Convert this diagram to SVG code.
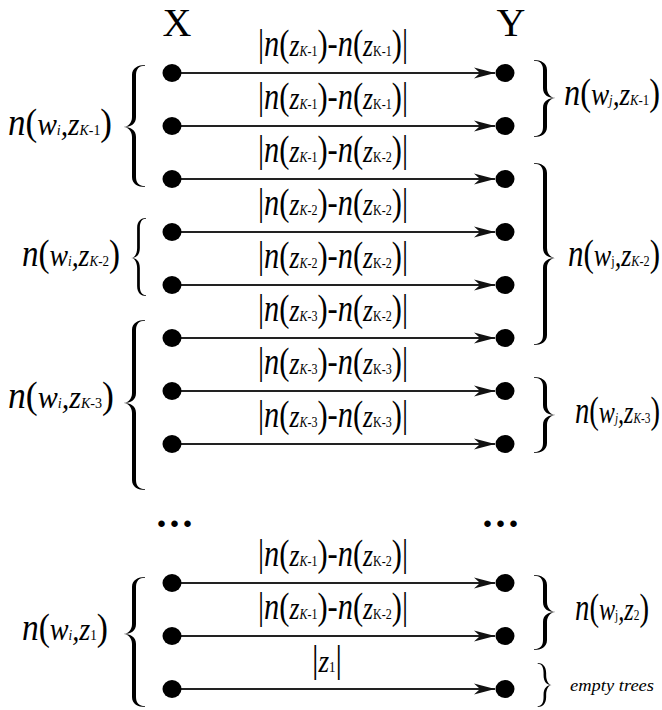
<svg xmlns="http://www.w3.org/2000/svg" width="662" height="710" viewBox="0 0 662 710">
<style>
.t{font-family:"Liberation Serif","Times New Roman",serif;fill:#000}
.big{font-size:38px}
.i{font-style:italic}
.zz{font-size:32px;font-style:italic}
.sb{font-size:15px}
.hd{font-size:40px}
.el{font-size:40px;font-weight:bold;letter-spacing:3px}
.et{font-size:17px;font-style:italic}
.arr{stroke:#222;stroke-width:1.8;fill:none;marker-end:url(#ah)}
.dot{fill:#000}
.br{fill:#000}
</style>
<defs>
<marker id="ah" markerUnits="userSpaceOnUse" markerWidth="22" markerHeight="14" viewBox="0 0 22 14" refX="21" refY="7" orient="auto">
<path d="M0,1.5 L21,7 L0,12.5 L6,7 Z" fill="#111"/>
</marker>
</defs>
<rect width="662" height="710" fill="#fff"/>

<g id="headers">
<text class="t hd" x="177" y="36" text-anchor="middle">X</text>
<text class="t hd" x="511" y="36" text-anchor="middle">Y</text>
</g>

<g id="connectors">
<line class="arr" x1="172" y1="73" x2="495" y2="73"/>
<line class="arr" x1="172" y1="126" x2="495" y2="126"/>
<line class="arr" x1="172" y1="179" x2="495" y2="179"/>
<line class="arr" x1="172" y1="232" x2="495" y2="232"/>
<line class="arr" x1="172" y1="285" x2="495" y2="285"/>
<line class="arr" x1="172" y1="338" x2="495" y2="338"/>
<line class="arr" x1="172" y1="391" x2="495" y2="391"/>
<line class="arr" x1="172" y1="444" x2="495" y2="444"/>
<line class="arr" x1="172" y1="583" x2="495" y2="583"/>
<line class="arr" x1="172" y1="636" x2="495" y2="636"/>
<line class="arr" x1="172" y1="689" x2="495" y2="689"/>
</g>

<g id="edge-labels">
<text class="t big" x="258" y="56" textLength="150" lengthAdjust="spacingAndGlyphs">|<tspan class="i">n</tspan>(<tspan class="zz">z</tspan><tspan class="sb i">K</tspan><tspan class="sb">-1</tspan>)-<tspan class="i">n</tspan>(<tspan class="zz">z</tspan><tspan class="sb">K-1</tspan>)|</text>
<text class="t big" x="258" y="109" textLength="150" lengthAdjust="spacingAndGlyphs">|<tspan class="i">n</tspan>(<tspan class="zz">z</tspan><tspan class="sb i">K</tspan><tspan class="sb">-1</tspan>)-<tspan class="i">n</tspan>(<tspan class="zz">z</tspan><tspan class="sb">K-1</tspan>)|</text>
<text class="t big" x="258" y="162" textLength="150" lengthAdjust="spacingAndGlyphs">|<tspan class="i">n</tspan>(<tspan class="zz">z</tspan><tspan class="sb i">K</tspan><tspan class="sb">-1</tspan>)-<tspan class="i">n</tspan>(<tspan class="zz">z</tspan><tspan class="sb">K-2</tspan>)|</text>
<text class="t big" x="258" y="215" textLength="150" lengthAdjust="spacingAndGlyphs">|<tspan class="i">n</tspan>(<tspan class="zz">z</tspan><tspan class="sb i">K</tspan><tspan class="sb">-2</tspan>)-<tspan class="i">n</tspan>(<tspan class="zz">z</tspan><tspan class="sb">K-2</tspan>)|</text>
<text class="t big" x="258" y="268" textLength="150" lengthAdjust="spacingAndGlyphs">|<tspan class="i">n</tspan>(<tspan class="zz">z</tspan><tspan class="sb i">K</tspan><tspan class="sb">-2</tspan>)-<tspan class="i">n</tspan>(<tspan class="zz">z</tspan><tspan class="sb">K-2</tspan>)|</text>
<text class="t big" x="258" y="321" textLength="150" lengthAdjust="spacingAndGlyphs">|<tspan class="i">n</tspan>(<tspan class="zz">z</tspan><tspan class="sb i">K</tspan><tspan class="sb">-3</tspan>)-<tspan class="i">n</tspan>(<tspan class="zz">z</tspan><tspan class="sb">K-2</tspan>)|</text>
<text class="t big" x="258" y="374" textLength="150" lengthAdjust="spacingAndGlyphs">|<tspan class="i">n</tspan>(<tspan class="zz">z</tspan><tspan class="sb i">K</tspan><tspan class="sb">-3</tspan>)-<tspan class="i">n</tspan>(<tspan class="zz">z</tspan><tspan class="sb">K-3</tspan>)|</text>
<text class="t big" x="258" y="427" textLength="150" lengthAdjust="spacingAndGlyphs">|<tspan class="i">n</tspan>(<tspan class="zz">z</tspan><tspan class="sb i">K</tspan><tspan class="sb">-3</tspan>)-<tspan class="i">n</tspan>(<tspan class="zz">z</tspan><tspan class="sb">K-3</tspan>)|</text>
<text class="t big" x="258" y="566" textLength="150" lengthAdjust="spacingAndGlyphs">|<tspan class="i">n</tspan>(<tspan class="zz">z</tspan><tspan class="sb i">K</tspan><tspan class="sb">-1</tspan>)-<tspan class="i">n</tspan>(<tspan class="zz">z</tspan><tspan class="sb">K-2</tspan>)|</text>
<text class="t big" x="258" y="619" textLength="150" lengthAdjust="spacingAndGlyphs">|<tspan class="i">n</tspan>(<tspan class="zz">z</tspan><tspan class="sb i">K</tspan><tspan class="sb">-1</tspan>)-<tspan class="i">n</tspan>(<tspan class="zz">z</tspan><tspan class="sb">K-2</tspan>)|</text>
<text class="t big" x="312" y="672" textLength="30" lengthAdjust="spacingAndGlyphs">|<tspan class="zz">z</tspan><tspan class="sb">1</tspan>|</text>
</g>

<g id="x-nodes">
<g id="x1"><ellipse class="dot" cx="172" cy="73" rx="9.5" ry="9"/></g>
<g id="x2"><ellipse class="dot" cx="172" cy="126" rx="9.5" ry="9"/></g>
<g id="x3"><ellipse class="dot" cx="172" cy="179" rx="9.5" ry="9"/></g>
<g id="x4"><ellipse class="dot" cx="172" cy="232" rx="9.5" ry="9"/></g>
<g id="x5"><ellipse class="dot" cx="172" cy="285" rx="9.5" ry="9"/></g>
<g id="x6"><ellipse class="dot" cx="172" cy="338" rx="9.5" ry="9"/></g>
<g id="x7"><ellipse class="dot" cx="172" cy="391" rx="9.5" ry="9"/></g>
<g id="x8"><ellipse class="dot" cx="172" cy="444" rx="9.5" ry="9"/></g>
<g id="x9"><ellipse class="dot" cx="172" cy="583" rx="9.5" ry="9"/></g>
<g id="x10"><ellipse class="dot" cx="172" cy="636" rx="9.5" ry="9"/></g>
<g id="x11"><ellipse class="dot" cx="172" cy="689" rx="9.5" ry="9"/></g>
</g>

<g id="y-nodes">
<g id="y1"><ellipse class="dot" cx="505" cy="73" rx="9.5" ry="9"/></g>
<g id="y2"><ellipse class="dot" cx="505" cy="126" rx="9.5" ry="9"/></g>
<g id="y3"><ellipse class="dot" cx="505" cy="179" rx="9.5" ry="9"/></g>
<g id="y4"><ellipse class="dot" cx="505" cy="232" rx="9.5" ry="9"/></g>
<g id="y5"><ellipse class="dot" cx="505" cy="285" rx="9.5" ry="9"/></g>
<g id="y6"><ellipse class="dot" cx="505" cy="338" rx="9.5" ry="9"/></g>
<g id="y7"><ellipse class="dot" cx="505" cy="391" rx="9.5" ry="9"/></g>
<g id="y8"><ellipse class="dot" cx="505" cy="444" rx="9.5" ry="9"/></g>
<g id="y9"><ellipse class="dot" cx="505" cy="583" rx="9.5" ry="9"/></g>
<g id="y10"><ellipse class="dot" cx="505" cy="636" rx="9.5" ry="9"/></g>
<g id="y11"><ellipse class="dot" cx="505" cy="689" rx="9.5" ry="9"/></g>
</g>

<g id="ellipses">
<text class="t el" x="176" y="527" text-anchor="middle">...</text>
<text class="t el" x="502" y="527" text-anchor="middle">...</text>
</g>

<g id="left-groups">
<g id="L1">
<path class="br" transform="translate(123,65)" d="M22,0 C15,0 9,3 9,10 V52 C9,58 5,62 0,62 C5,62 9,66 9,72 V112 C9,119 15,122 22,122 L22,121.2 C16,121 13,118 13,112 V72 C13,65 8,62 0,62 C8,62 13,59 13,52 V10 C13,4 16,0.8 22,0.8 Z"/>
<text class="t big" x="8" y="135" textLength="104" lengthAdjust="spacingAndGlyphs"><tspan class="i">n</tspan>(<tspan class="zz">w</tspan><tspan class="sb i">i</tspan><tspan class="zz">,z</tspan><tspan class="sb i">K</tspan><tspan class="sb">-1</tspan>)</text>
</g>
<g id="L2">
<path class="br" transform="translate(131,218) scale(0.68,1)" d="M22,0 C15,0 9,3 9,10 V30 C9,36 5,40 0,40 C5,40 9,44 9,50 V68 C9,75 15,78 22,78 L22,77.2 C16,77 13,74 13,68 V50 C13,43 8,40 0,40 C8,40 13,37 13,30 V10 C13,4 16,0.8 22,0.8 Z"/>
<text class="t big" x="22" y="266" textLength="98" lengthAdjust="spacingAndGlyphs"><tspan class="i">n</tspan>(<tspan class="zz">w</tspan><tspan class="sb i">i</tspan><tspan class="zz">,z</tspan><tspan class="sb i">K</tspan><tspan class="sb">-2</tspan>)</text>
</g>
<g id="L3">
<path class="br" transform="translate(123,320)" d="M22,0 C15,0 9,3 9,10 V73 C9,79 5,83 0,83 C5,83 9,87 9,93 V160 C9,167 15,170 22,170 L22,169.2 C16,169 13,166 13,160 V93 C13,86 8,83 0,83 C8,83 13,80 13,73 V10 C13,4 16,0.8 22,0.8 Z"/>
<text class="t big" x="8" y="408" textLength="106" lengthAdjust="spacingAndGlyphs"><tspan class="i">n</tspan>(<tspan class="zz">w</tspan><tspan class="sb i">i</tspan><tspan class="zz">,z</tspan><tspan class="sb i">K</tspan><tspan class="sb">-3</tspan>)</text>
</g>
<g id="L4">
<path class="br" transform="translate(123,577)" d="M22,0 C15,0 9,3 9,10 V47 C9,53 5,57 0,57 C5,57 9,61 9,67 V120 C9,127 15,130 22,130 L22,129.2 C16,129 13,126 13,120 V67 C13,60 8,57 0,57 C8,57 13,54 13,47 V10 C13,4 16,0.8 22,0.8 Z"/>
<text class="t big" x="22" y="640" textLength="86" lengthAdjust="spacingAndGlyphs"><tspan class="i">n</tspan>(<tspan class="zz">w</tspan><tspan class="sb i">i</tspan><tspan class="zz">,z</tspan><tspan class="sb">1</tspan>)</text>
</g>
</g>

<g id="right-groups">
<g id="R1">
<path class="br" transform="translate(556,60) scale(-1,1)" d="M22,0 C15,0 9,3 9,10 V28 C9,34 5,38 0,38 C5,38 9,42 9,48 V67 C9,74 15,77 22,77 L22,76.2 C16,76 13,73 13,67 V48 C13,41 8,38 0,38 C8,38 13,35 13,28 V10 C13,4 16,0.8 22,0.8 Z"/>
<text class="t big" x="564" y="105" textLength="96" lengthAdjust="spacingAndGlyphs"><tspan class="i">n</tspan>(<tspan class="zz">w</tspan><tspan class="sb i">j</tspan><tspan class="zz">,z</tspan><tspan class="sb i">K</tspan><tspan class="sb">-1</tspan>)</text>
</g>
<g id="R2">
<path class="br" transform="translate(556,163) scale(-1,1)" d="M22,0 C15,0 9,3 9,10 V85 C9,91 5,95 0,95 C5,95 9,99 9,105 V172 C9,179 15,182 22,182 L22,181.2 C16,181 13,178 13,172 V105 C13,98 8,95 0,95 C8,95 13,92 13,85 V10 C13,4 16,0.8 22,0.8 Z"/>
<text class="t big" x="568" y="266" textLength="92" lengthAdjust="spacingAndGlyphs"><tspan class="i">n</tspan>(<tspan class="zz">w</tspan><tspan class="sb">j</tspan><tspan class="zz">,z</tspan><tspan class="sb i">K</tspan><tspan class="sb">-2</tspan>)</text>
</g>
<g id="R3">
<path class="br" transform="translate(556,377) scale(-1,1)" d="M22,0 C15,0 9,3 9,10 V28 C9,34 5,38 0,38 C5,38 9,42 9,48 V66 C9,73 15,76 22,76 L22,75.2 C16,75 13,72 13,66 V48 C13,41 8,38 0,38 C8,38 13,35 13,28 V10 C13,4 16,0.8 22,0.8 Z"/>
<text class="t big" x="575" y="423" textLength="85" lengthAdjust="spacingAndGlyphs"><tspan class="i">n</tspan>(<tspan class="zz">w</tspan><tspan class="sb i">j</tspan><tspan class="zz">,z</tspan><tspan class="sb i">K</tspan><tspan class="sb">-3</tspan>)</text>
</g>
<g id="R4">
<path class="br" transform="translate(556,575) scale(-1,1)" d="M22,0 C15,0 9,3 9,10 V27 C9,33 5,37 0,37 C5,37 9,41 9,47 V65 C9,72 15,75 22,75 L22,74.2 C16,74 13,71 13,65 V47 C13,40 8,37 0,37 C8,37 13,34 13,27 V10 C13,4 16,0.8 22,0.8 Z"/>
<text class="t big" x="575" y="620" textLength="74" lengthAdjust="spacingAndGlyphs"><tspan class="i">n</tspan>(<tspan class="zz">w</tspan><tspan class="sb">j</tspan><tspan class="zz">,z</tspan><tspan class="sb">2</tspan>)</text>
</g>
<g id="R5">
<path class="br" transform="translate(552,663) scale(-0.65,1)" d="M22,0 C15,0 9,3 9,10 V12 C9,18 5,22 0,22 C5,22 9,26 9,32 V34 C9,41 15,44 22,44 L22,43.2 C16,43 13,40 13,34 V32 C13,25 8,22 0,22 C8,22 13,19 13,12 V10 C13,4 16,0.8 22,0.8 Z"/>
<text class="t et" x="570" y="691" textLength="84" lengthAdjust="spacingAndGlyphs">empty trees</text>
</g>
</g>
</svg>
